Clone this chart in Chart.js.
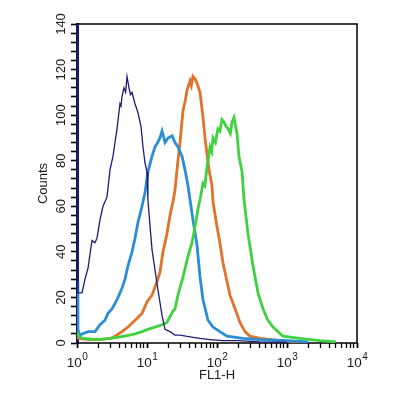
<!DOCTYPE html>
<html><head><meta charset="utf-8">
<script src="https://cdn.jsdelivr.net/npm/chart.js@4/dist/chart.umd.min.js"></script>
<style>html,body{margin:0;padding:0;background:#fff;overflow:hidden}#wrap{width:394px;height:397px;position:relative}</style>
</head><body><div id="wrap"><canvas id="c"></canvas></div>
<script>
// FL1-H values (x) and Counts (y)
const navyX = [1, 1.03, 1.18, 1.30, 1.44, 1.55, 1.64, 1.80, 1.93, 2.13, 2.35, 2.51, 2.68, 2.96, 3.27, 3.49, 3.73, 4.11, 4.25, 4.39, 4.69, 4.95, 5.18, 5.53, 5.8, 6.11, 6.74, 7.44, 8.21, 8.77, 9.36, 10.0, 10.3, 11.0, 11.8, 13.9, 16.4, 18.1, 21.3, 25.1, 29.6, 36, 45.4, 57.2, 80, 120, 200, 400, 1000];
const navyY = [200, 22, 22, 28, 33, 40, 45, 44, 46, 54, 60, 62, 64, 76, 82, 88, 94, 105, 104, 108, 112, 110, 117, 112, 109, 110, 105, 101, 95, 86, 79, 75, 63, 52, 41, 26, 12, 6, 5, 3.5, 3.5, 3, 2.5, 2, 1.5, 1, 1, 0.5, 0.3];

const blueX = [1, 1.03, 1.1, 1.18, 1.44, 1.81, 2.13, 2.51, 2.77, 3.16, 3.73, 4.39, 4.85, 5.36, 6.11, 6.74, 7.44, 8.48, 9.36, 10.3, 11.8, 13.0, 14.2, 15.3, 16.4, 18.1, 20.0, 22.8, 25.1, 27.7, 31.6, 34.9, 38.5, 41.1, 45.4, 51.8, 57.2, 63.1, 74.4, 87.7, 110, 139, 235, 411, 1000, 2000];
const blueY = [27, 6, 3, 4, 5, 5, 8, 10, 13, 15, 19, 24, 28, 34, 40, 46, 53, 60, 66, 75, 82, 86, 88, 90, 93, 88, 90, 91, 88, 86, 82, 76, 69, 63, 54, 43, 29, 19, 10, 7, 5, 3, 2, 1.5, 1, 0.5];

const orangeX = [1, 1.05, 1.5, 2, 3, 3.49, 4.39, 5.36, 6.74, 8.48, 10.0, 11.8, 13.9, 15.3, 16.9, 19.3, 21.3, 23.5, 25.1, 26.8, 29.6, 32.7, 35, 37.3, 41.1, 43, 45.4, 48.5, 51.8, 57.2, 63.1, 67.4, 71.9, 76.9, 84.8, 87.7, 100, 110, 122, 139, 153, 181, 213, 251, 296, 411, 800, 1500];
const orangeY = [4, 2, 1.5, 1.5, 2, 3, 5, 7, 10, 13, 18, 21, 27, 31, 40, 48, 56, 62, 67, 76, 88, 102, 106, 111, 115, 113, 117, 116, 114, 110, 99, 90, 83, 76, 69, 62, 51, 44, 35, 27, 21, 15, 9, 5, 3, 2, 1, 0.5];

const greenX = [1, 1.05, 1.2, 2, 3, 4.85, 6.74, 8.48, 10.3, 13.0, 16.4, 19.3, 20.0, 23.5, 25.1, 27.7, 32.7, 38.5, 43.9, 48.5, 53.6, 57.2, 63.1, 67, 71.9, 79.4, 84, 87.7, 95, 103, 110, 118, 126, 135, 144, 155, 164, 175, 193, 206, 228, 243, 277, 326, 385, 454, 534, 631, 874, 1520, 2961, 5000];
const greenY = [5, 3, 2, 1.5, 2, 3, 4, 5, 6, 7, 8, 9, 10, 14, 15, 21, 29, 38, 44, 51, 59, 63, 70, 69, 77, 86, 84, 90, 88, 94, 93, 98, 97, 95, 94, 92, 97, 99, 92, 82, 75, 63, 48, 34, 22, 15, 10, 7, 3, 2, 1, 0.5];

// axis ticks
const xDecades = [1, 10, 100, 1000, 10000];
const xTickExponents = ["0", "1", "2", "3", "4"];
const yTickValues = [0, 20, 40, 60, 80, 100, 120, 140];
const yTickLabels = ["0", "20", "40", "60", "80", "100", "120", "140"];
const xTitle = "FL1-H";
const yTitle = "Counts";

const FONT = '"Liberation Sans", Arial, sans-serif';
const pts = (xs, ys) => xs.map((x, i) => ({x: x, y: ys[i]}));

const xMinorTicks = [];
xDecades.forEach((d, i) => {
  if (i < xDecades.length - 1) { for (let k = 1; k < 10; k++) xMinorTicks.push({value: d * k, major: k === 1}); }
  else xMinorTicks.push({value: d, major: true});
});

const labelPlugin = {
  id: 'labels',
  beforeDatasetsDraw(chart) {
    const ctx = chart.ctx, a = chart.chartArea;
    ctx.save();
    ctx.strokeStyle = '#000'; ctx.lineWidth = 1.5;
    ctx.beginPath();
    ctx.moveTo(a.left, a.top); ctx.lineTo(a.right, a.top); ctx.lineTo(a.right, a.bottom); ctx.lineTo(a.left, a.bottom);
    ctx.stroke();
    ctx.restore();
  },
  afterDraw(chart) {
    const ctx = chart.ctx, xs = chart.scales.x, ys = chart.scales.y;
    ctx.save();
    ctx.fillStyle = '#1a1a1a';
    ctx.font = '13px ' + FONT;
    ctx.textAlign = 'center'; ctx.textBaseline = 'middle';
    yTickValues.forEach((v, i) => {
      const py = ys.getPixelForValue(v);
      ctx.save(); ctx.translate(61, py); ctx.rotate(-Math.PI / 2);
      ctx.fillText(yTickLabels[i], 0, 0); ctx.restore();
    });
    ctx.textAlign = 'left'; ctx.textBaseline = 'alphabetic';
    xDecades.forEach((v, i) => {
      const px = xs.getPixelForValue(v);
      ctx.font = '13.5px ' + FONT; const w1 = ctx.measureText('10').width;
      ctx.font = '10px ' + FONT; const w2 = ctx.measureText(xTickExponents[i]).width;
      const start = px - (w1 + w2) / 2;
      ctx.font = '13.5px ' + FONT; ctx.fillText('10', start, 367);
      ctx.font = '10px ' + FONT; ctx.fillText(xTickExponents[i], start + w1 + 0.5, 360);
    });
    ctx.restore();
  }
};

new Chart(document.getElementById('c'), {
  type: 'line',
  data: {
    datasets: [
      {label: 'control', data: pts(navyX, navyY), borderColor: '#1c1c78', borderWidth: 1.3, pointRadius: 0, tension: 0, order: 0},
      {label: 'green', data: pts(greenX, greenY), borderColor: '#3fd23f', borderWidth: 2.8, pointRadius: 0, tension: 0, order: 1},
      {label: 'blue', data: pts(blueX, blueY), borderColor: '#2a8ed6', borderWidth: 2.8, pointRadius: 0, tension: 0, order: 2},
      {label: 'orange', data: pts(orangeX, orangeY), borderColor: '#e0732a', borderWidth: 2.8, pointRadius: 0, tension: 0, order: 3}
    ]
  },
  options: {
    responsive: true, maintainAspectRatio: false, animation: false,
    layout: {padding: {left: 0, right: 37, top: 24, bottom: 0}},
    plugins: {legend: {display: false}, tooltip: {enabled: false}},
    scales: {
      x: {
        type: 'logarithmic', min: 1, max: 10000,
        afterFit(s) { s.height = 54; },
        afterBuildTicks(s) { s.ticks = xMinorTicks.map(t => ({value: t.value, major: t.major})); },
        ticks: {display: false, autoSkip: false},
        grid: {drawOnChartArea: false, drawTicks: true, tickLength: 5, tickColor: '#000', tickWidth: c => (c.tick && c.tick.major) ? 1.8 : 1.3},
        border: {display: false},
        title: {display: true, text: xTitle, color: '#1a1a1a', font: {family: FONT, size: 13}, padding: {top: 0, bottom: 14}}
      },
      y: {
        type: 'linear', min: 0, max: 140,
        afterFit(s) { s.width = 77; },
        ticks: {display: false, stepSize: 4},
        grid: {drawOnChartArea: false, drawTicks: true, tickLength: 6, tickColor: '#000', tickWidth: 1.6},
        border: {display: true, color: '#14145e', width: 3},
        title: {display: true, text: yTitle, color: '#1a1a1a', font: {family: FONT, size: 13}, padding: {top: 36, bottom: 0}}
      }
    }
  },
  plugins: [labelPlugin]
});
</script>
</body></html>
